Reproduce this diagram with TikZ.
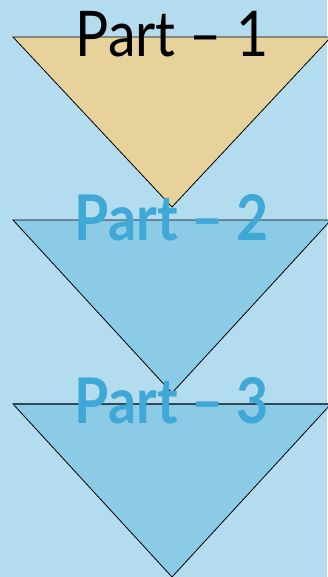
\documentclass[tikz,border=0pt]{standalone}
\usepackage{fontspec}
\setmainfont{Lato}
\definecolor{bgblue}{HTML}{B3DCEE}
\definecolor{tan}{HTML}{E7D29B}
\definecolor{triblue}{HTML}{8BCBE6}
\definecolor{txtblue}{HTML}{3FA8D6}
\definecolor{edgegray}{HTML}{2F4A55}
\newcommand{\narrow}[1]{\scalebox{0.88}[1]{#1}}
\begin{document}
\begin{tikzpicture}[x=1bp,y=-1bp,
  tri/.style={draw=black,line width=0.8bp,line join=miter},
  lbl/.style={anchor=base,inner sep=0pt,font=\fontsize{63bp}{63bp}\selectfont},
  lblb/.style={lbl,text=txtblue,font=\fontsize{63bp}{63bp}\selectfont\bfseries}]
\fill[bgblue] (0,0) rectangle (327,577);
\useasboundingbox (0,0) rectangle (327,577);
\filldraw[tri,fill=tan] (13,37) -- (331,37) -- (172,207) -- cycle;
\filldraw[tri,fill=triblue] (13,220) -- (331,220) -- (172,393) -- cycle;
\filldraw[tri,fill=triblue] (13,404) -- (331,404) -- (172,577) -- cycle;
\draw[edgegray,line width=1.2bp] (13,404) -- (331,404);
\node[lbl] (t1) at (172,57) {\narrow{Part – 1}};
\node[lblb] (t2) at (172,240) {\narrow{Part – 2}};
\node[lblb] (t3) at (172,423) {\narrow{Part – 3}};
\end{tikzpicture}
\end{document}
